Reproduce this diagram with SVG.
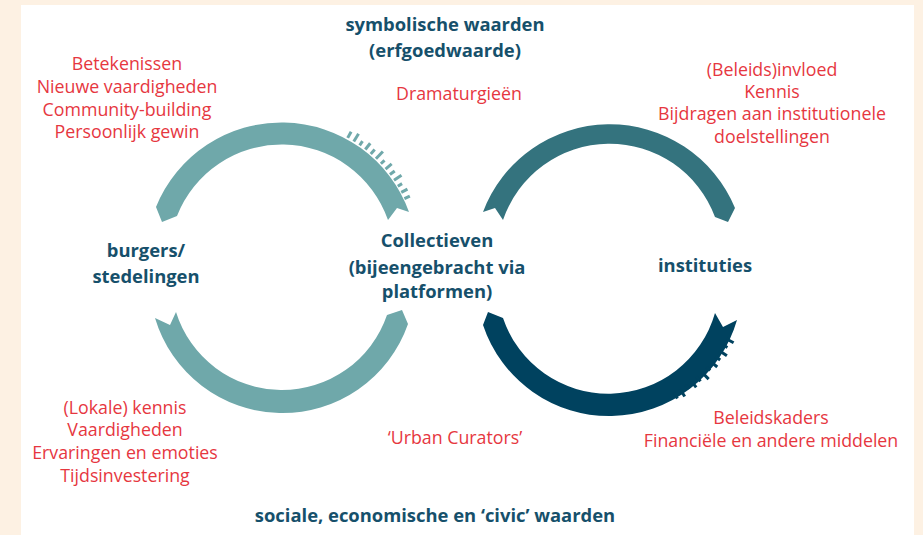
<svg xmlns="http://www.w3.org/2000/svg" width="923" height="535" viewBox="0 0 923 535">
<style>
.red{font-family:"Open Sans","Noto Sans","Liberation Sans",sans-serif;font-size:17.8px;fill:#e6373f;text-anchor:middle}
.hd{font-family:"Open Sans","Noto Sans","Liberation Sans",sans-serif;font-size:18.4px;font-weight:bold;fill:#16506b;text-anchor:middle}
.lt{fill:#6fa8aa}
.md{fill:#34737e}
.dk{fill:#00425f}
</style>
<rect x="0" y="0" width="923" height="535" fill="#fdf1e3"/>
<rect x="21" y="5" width="893" height="530" fill="#ffffff"/>
<g id="connectors">
  <g id="arc-top-left" class="lt">
    <path d="M156 207 A135.5 135.5 0 0 1 409 212 L397 208 L388 220 A112.5 112.5 0 0 0 177 216 L162 222 Z"/>
    <g>
      <rect x="281" y="114" width="3" height="7" transform="rotate(29 282.5 255.5)"/>
      <rect x="281" y="112" width="3" height="9" transform="rotate(32 282.5 255.5)"/>
      <rect x="281" y="116" width="3" height="5" transform="rotate(35 282.5 255.5)"/>
      <rect x="281" y="113" width="3" height="8" transform="rotate(38 282.5 255.5)"/>
      <rect x="281" y="115" width="3" height="6" transform="rotate(41 282.5 255.5)"/>
      <rect x="281" y="111" width="3" height="10" transform="rotate(44 282.5 255.5)"/>
      <rect x="281" y="116" width="3" height="5" transform="rotate(47 282.5 255.5)"/>
      <rect x="281" y="113" width="3" height="8" transform="rotate(50 282.5 255.5)"/>
      <rect x="281" y="115" width="3" height="6" transform="rotate(53 282.5 255.5)"/>
      <rect x="281" y="112" width="3" height="9" transform="rotate(56 282.5 255.5)"/>
      <rect x="281" y="116" width="3" height="5" transform="rotate(59 282.5 255.5)"/>
      <rect x="281" y="114" width="3" height="7" transform="rotate(62 282.5 255.5)"/>
      <rect x="281" y="115" width="3" height="6" transform="rotate(65 282.5 255.5)"/>
    </g>
  </g>
  <g id="arc-top-right" class="md">
    <path d="M483 212 A135.5 135.5 0 0 1 735 208 L728 222 L715 217 A112.5 112.5 0 0 0 503 220 L495 208 Z"/>
  </g>
  <g id="arc-bottom-left" class="lt">
    <path d="M155 318 A133 133 0 0 0 408 324 L402 310 L387 315 A111 111 0 0 1 176 312 L170 325 Z"/>
  </g>
  <g id="arc-bottom-right" class="dk">
    <path d="M483 325 A133 133 0 0 0 737 320 L723 327 L715 313 A111 111 0 0 1 503 318 L488 312 Z"/>
    <g>
      <rect x="608.5" y="409" width="3" height="7" transform="rotate(-29 610 277)"/>
      <rect x="608.5" y="409" width="3" height="9" transform="rotate(-32 610 277)"/>
      <rect x="608.5" y="409" width="3" height="5" transform="rotate(-35 610 277)"/>
      <rect x="608.5" y="409" width="3" height="8" transform="rotate(-38 610 277)"/>
      <rect x="608.5" y="409" width="3" height="6" transform="rotate(-41 610 277)"/>
      <rect x="608.5" y="409" width="3" height="10" transform="rotate(-44 610 277)"/>
      <rect x="608.5" y="409" width="3" height="5" transform="rotate(-47 610 277)"/>
      <rect x="608.5" y="409" width="3" height="8" transform="rotate(-50 610 277)"/>
      <rect x="608.5" y="409" width="3" height="6" transform="rotate(-53 610 277)"/>
      <rect x="608.5" y="409" width="3" height="9" transform="rotate(-56 610 277)"/>
      <rect x="608.5" y="409" width="3" height="5" transform="rotate(-59 610 277)"/>
      <rect x="608.5" y="409" width="3" height="8" transform="rotate(-62 610 277)"/>
    </g>
  </g>
</g>
<g id="node-symbolisch">
  <text class="hd" x="445" y="31">symbolische waarden</text>
  <text class="hd" x="445" y="57">(erfgoedwaarde)</text>
</g>
<g id="label-dramaturgieen">
  <text class="red" x="459" y="100">Dramaturgieën</text>
</g>
<g id="label-burgers-out">
  <text class="red" x="127" y="70">Betekenissen</text>
  <text class="red" x="127" y="93">Nieuwe vaardigheden</text>
  <text class="red" x="127" y="116">Community-building</text>
  <text class="red" x="127" y="138">Persoonlijk gewin</text>
</g>
<g id="label-instituties-in">
  <text class="red" x="772" y="76">(Beleids)invloed</text>
  <text class="red" x="772" y="98">Kennis</text>
  <text class="red" x="772" y="120">Bijdragen aan institutionele</text>
  <text class="red" x="772" y="143">doelstellingen</text>
</g>
<g id="node-burgers">
  <text class="hd" x="146" y="257">burgers/</text>
  <text class="hd" x="146" y="283">stedelingen</text>
</g>
<g id="node-collectieven">
  <text class="hd" x="437" y="247">Collectieven</text>
  <text class="hd" x="437" y="274">(bijeengebracht via</text>
  <text class="hd" x="437" y="298">platformen)</text>
</g>
<g id="node-instituties">
  <text class="hd" x="705" y="272">instituties</text>
</g>
<g id="label-burgers-in">
  <text class="red" x="125" y="414">(Lokale) kennis</text>
  <text class="red" x="125" y="436">Vaardigheden</text>
  <text class="red" x="125" y="459">Ervaringen en emoties</text>
  <text class="red" x="125" y="482">Tijdsinvestering</text>
</g>
<g id="label-urban">
  <text class="red" x="455" y="444">‘Urban Curators’</text>
</g>
<g id="label-instituties-out">
  <text class="red" x="771" y="424">Beleidskaders</text>
  <text class="red" x="771" y="447">Financiële en andere middelen</text>
</g>
<g id="node-sociaal">
  <text class="hd" x="435" y="522">sociale, economische en ‘civic’ waarden</text>
</g>
</svg>
